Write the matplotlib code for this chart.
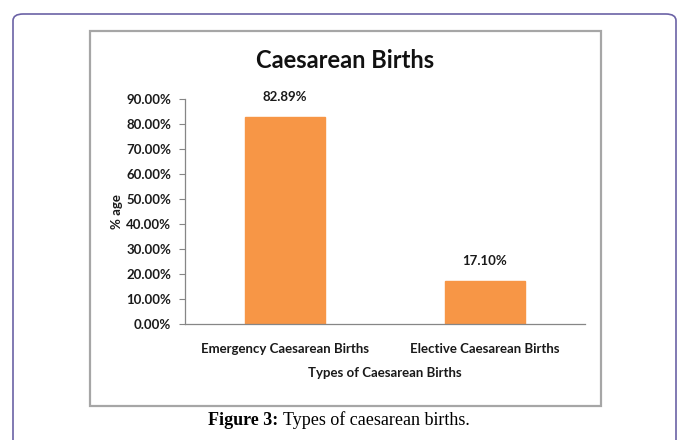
import matplotlib
matplotlib.use("Agg")
import matplotlib.pyplot as plt
from matplotlib.patches import FancyBboxPatch, Rectangle
from matplotlib.ticker import FuncFormatter

# data
categories = ["Emergency Caesarean Births", "Elective Caesarean Births"]
shares = [0.8289, 0.1710]
bar_labels = ["82.89%", "17.10%"]
yticks = [0.0, 0.1, 0.2, 0.3, 0.4, 0.5, 0.6, 0.7, 0.8, 0.9]

W, H = 679, 440
fig = plt.figure(figsize=(W / 100, H / 100), dpi=100)
fig.patch.set_facecolor("white")

def fx(px):
    return px / W

def fy(py):
    return 1 - py / H

# outer rounded frame of the figure panel
outer = FancyBboxPatch((fx(13), fy(460)), fx(676) - fx(13), fy(14) - fy(460),
                       boxstyle="round,pad=0,rounding_size=0.015",
                       transform=fig.transFigure, fill=False,
                       edgecolor="#6b62a6", linewidth=1.2, clip_on=False)
fig.patches.append(outer)

# grey frame around the excel chart
inner = Rectangle((fx(90), fy(406)), fx(601) - fx(90), fy(31) - fy(406),
                  transform=fig.transFigure, fill=False,
                  edgecolor="#a6a6a6", linewidth=1.6)
fig.patches.append(inner)

font = "Lato"
txt = dict(fontfamily=font, fontweight="bold", fontsize=9.5, color="#1a1a1a")

ax = fig.add_axes([fx(185), fy(324), fx(585) - fx(185), fy(99) - fy(324)])
x = range(len(categories))
bars = ax.bar(x, shares, width=0.4, color="#f79646", edgecolor="#f79646")
ax.set_xlim(-0.5, 1.5)
ax.set_ylim(0, 0.9)
ax.set_yticks(yticks)
ax.yaxis.set_major_formatter(FuncFormatter(lambda v, p: f"{v * 100:.2f}%"))
ax.set_xticks(list(x))
ax.set_xticklabels(categories)

for lab in ax.get_yticklabels() + ax.get_xticklabels():
    lab.set(**txt)

ax.tick_params(axis="y", length=4, width=0.8, color="#868686", pad=6)
ax.tick_params(axis="x", length=0, pad=14)
for s in ["top", "right"]:
    ax.spines[s].set_visible(False)
for s in ["left", "bottom"]:
    ax.spines[s].set_color("#868686")
    ax.spines[s].set_linewidth(0.9)

for b, t in zip(bars, bar_labels):
    ax.annotate(t, (b.get_x() + b.get_width() / 2, b.get_height()),
                xytext=(0, 10), textcoords="offset points",
                ha="center", va="bottom", **txt)

fig.text(fx(117), fy(212), "% age", rotation=90, ha="center", va="center", **txt)
fig.text(fx(385), fy(373), "Types of Caesarean Births", ha="center", va="center", **txt)
fig.text(fx(345), fy(60), "Caesarean Births", ha="center", va="center",
         fontfamily=font, fontweight="bold", fontsize=17, color="#111111")

# caption under the chart
cap = fig.text(fx(208), fy(420), "Figure 3:", ha="left", va="center",
               fontfamily="Liberation Serif", fontweight="bold", fontsize=13)
fig.canvas.draw()
bb = cap.get_window_extent()
fig.text(bb.x1 / W + fx(5), fy(420), "Types of caesarean births.", ha="left",
         va="center", fontfamily="Liberation Serif", fontsize=13)

fig.savefig("out.png", dpi=100)
